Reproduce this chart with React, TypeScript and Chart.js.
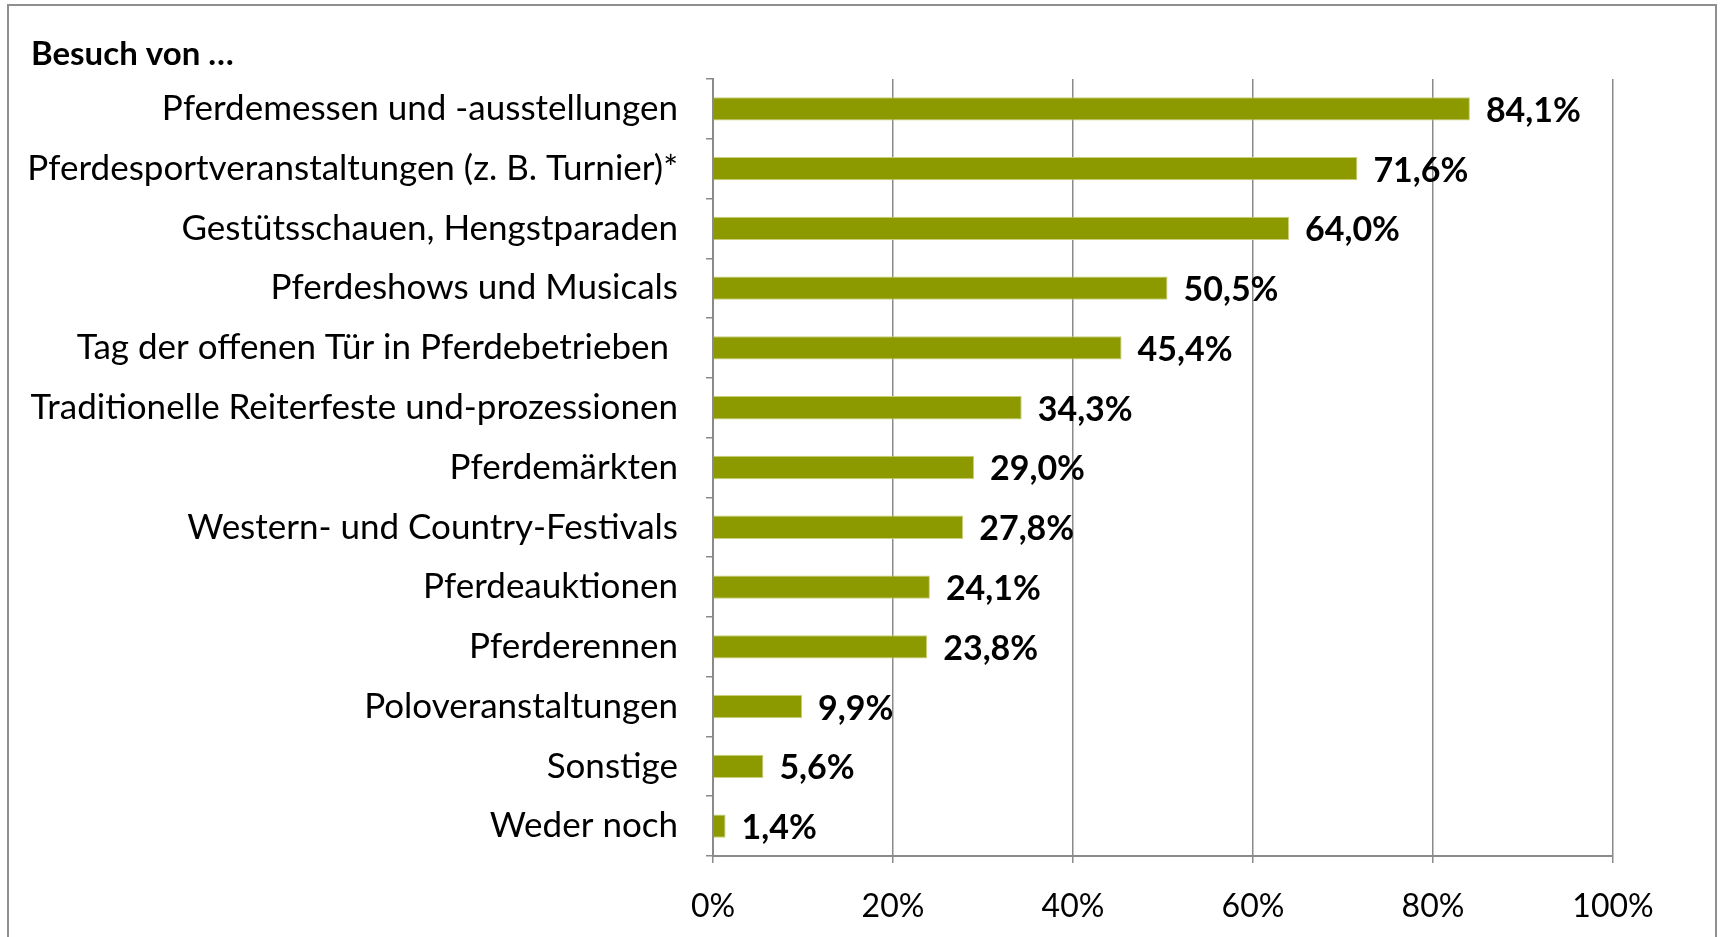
import React, { useEffect, useRef } from "react";
import { Chart, registerables } from "chart.js";

Chart.register(...registerables);

const titleText = "Besuch von …";
const categories = [
  "Pferdemessen und -ausstellungen",
  "Pferdesportveranstaltungen (z. B. Turnier)*",
  "Gestütsschauen, Hengstparaden",
  "Pferdeshows und Musicals",
  "Tag der offenen Tür in Pferdebetrieben ",
  "Traditionelle Reiterfeste und-prozessionen",
  "Pferdemärkten",
  "Western- und Country-Festivals",
  "Pferdeauktionen",
  "Pferderennen",
  "Poloveranstaltungen",
  "Sonstige",
  "Weder noch",
];
const values = [84.1, 71.6, 64.0, 50.5, 45.4, 34.3, 29.0, 27.8, 24.1, 23.8, 9.9, 5.6, 1.4];
const xTicks = [0, 20, 40, 60, 80, 100];

const FONT = "Lato";
const GRID = "#8a8a8a";

export default function App() {
  const ref = useRef<HTMLCanvasElement | null>(null);

  useEffect(() => {
    const canvas = ref.current;
    if (!canvas) return;

    const labelPlugin = {
      id: "valueLabels",
      afterDatasetsDraw(chart: any) {
        const ctx = chart.ctx;
        const meta = chart.getDatasetMeta(0);
        ctx.save();
        ctx.font = `bold 34px ${FONT}`;
        ctx.fillStyle = "#000";
        ctx.textAlign = "left";
        ctx.textBaseline = "middle";
        meta.data.forEach((bar: any, i: number) => {
          const txt = values[i].toFixed(1).replace(".", ",") + "%";
          ctx.fillText(txt, bar.x + 16, bar.y + 2);
        });
        ctx.restore();
      },
      afterDraw(chart: any) {
        const ctx = chart.ctx;
        ctx.save();
        ctx.font = `bold 33px ${FONT}`;
        ctx.fillStyle = "#000";
        ctx.textAlign = "left";
        ctx.textBaseline = "middle";
        ctx.fillText(titleText, 31, 54);
        ctx.restore();
      },
    };

    const chart = new Chart(canvas, {
      type: "bar",
      data: {
        labels: categories,
        datasets: [
          {
            data: values,
            backgroundColor: "#8c9a00",
            borderColor: "#c9cf7a",
            borderWidth: 1,
            barPercentage: 0.39,
            categoryPercentage: 1,
          },
        ],
      },
      options: {
        indexAxis: "y",
        animation: false,
        responsive: false,
        maintainAspectRatio: false,
        layout: { padding: { top: 79, right: 108, bottom: 0, left: 0 } },
        plugins: {
          legend: { display: false },
          tooltip: { enabled: false },
          title: { display: false },
        },
        scales: {
          x: {
            min: 0,
            max: 100,
            afterBuildTicks(scale: any) {
              scale.ticks = xTicks.map((v) => ({ value: v }));
            },
            afterFit(scale: any) {
              scale.height = 81;
            },
            grid: {
              color: GRID,
              lineWidth: 1.5,
              drawTicks: true,
              tickLength: 7,
              tickColor: GRID,
            },
            border: { display: true, color: GRID, width: 2 },
            ticks: {
              padding: 24,
              color: "#000",
              font: { family: FONT, size: 32 },
              callback: (v: any) => `${v}%`,
              maxRotation: 0,
            },
          },
          y: {
            afterFit(scale: any) {
              scale.width = 713;
            },
            grid: {
              drawOnChartArea: false,
              drawTicks: true,
              tickLength: 7,
              color: GRID,
              tickColor: GRID,
              lineWidth: 1.5,
            },
            border: { display: true, color: GRID, width: 2 },
            ticks: {
              padding: 28,
              color: "#000",
              font: { family: FONT, size: 35 },
              autoSkip: false,
            },
          },
        },
      },
      plugins: [labelPlugin],
    });

    return () => chart.destroy();
  }, []);

  return (
    <div style={{ position: "absolute", left: 0, top: 0, width: 1721, height: 937, background: "#fff", overflow: "hidden" }}>
      <div
        style={{
          position: "absolute",
          left: 7,
          top: 4,
          width: 1710,
          height: 960,
          border: "2px solid #8f8f8f",
          boxSizing: "border-box",
        }}
      />
      <canvas ref={ref} width={1721} height={937} style={{ position: "absolute", left: 0, top: 0, width: 1721, height: 937 }} />
    </div>
  );
}
